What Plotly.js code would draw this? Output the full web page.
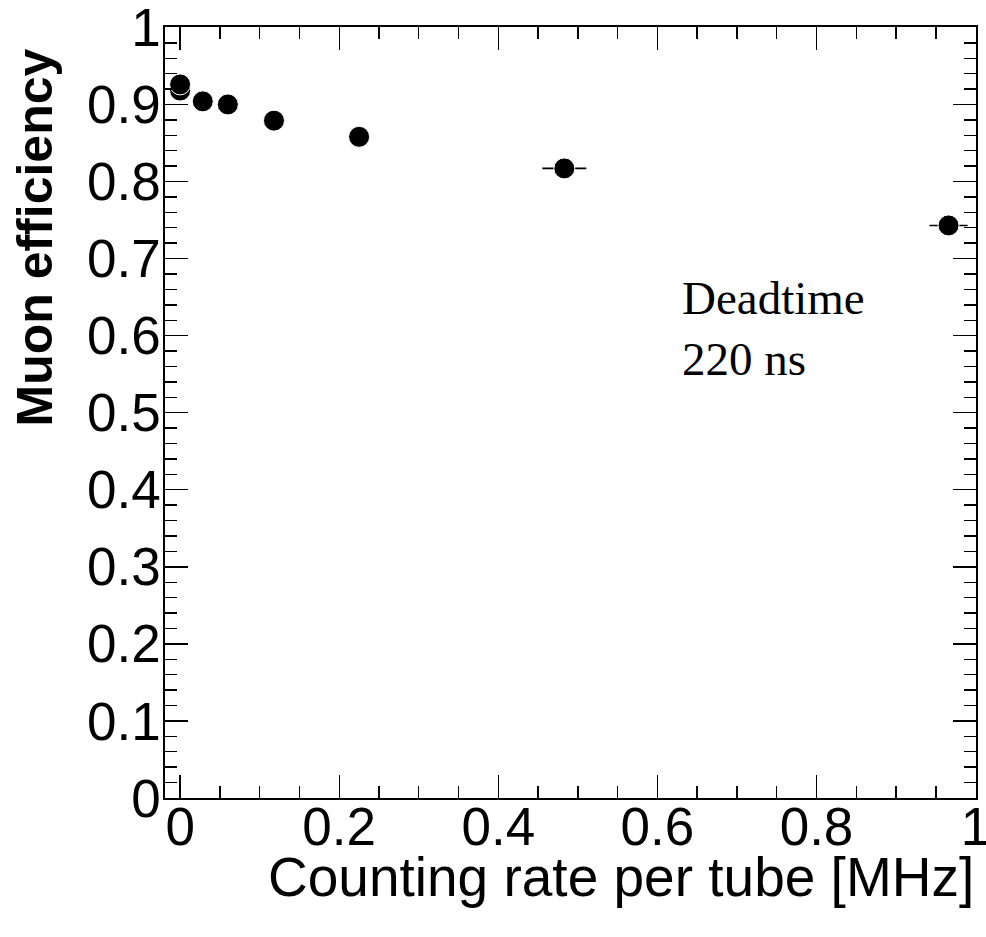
<!DOCTYPE html>
<html>
<head>
<meta charset="utf-8">
<script src="https://cdn.plot.ly/plotly-3.0.1.min.js"></script>
<style>html,body{margin:0;padding:0;background:#fff;}#chart{width:986px;height:937px;}</style>
</head>
<body>
<div id="chart"></div>
<script>
// Data
var rate = [0.0, 0.0, 0.0285, 0.060, 0.118, 0.225, 0.483, 0.966];
var efficiency = [0.918, 0.926, 0.904, 0.900, 0.879, 0.858, 0.817, 0.743];
var rateErr = [0, 0, 0, 0, 0, 0, 0.0276, 0.024];

var xTickVals = [0, 0.2, 0.4, 0.6, 0.8, 1];
var xTickText = ["0", "0.2", "0.4", "0.6", "0.8", "1"];
var yTickVals = [0, 0.1, 0.2, 0.3, 0.4, 0.5, 0.6, 0.7, 0.8, 0.9, 1];
var yTickText = ["0", "0.1", "0.2", "0.3", "0.4", "0.5", "0.6", "0.7", "0.8", "0.9", "1"];

var xTitle = "Counting rate per tube [MHz]";
var yTitle = "Muon efficiency";
var noteText = "Deadtime<br>220 ns";

var trace = {
  x: rate, y: efficiency, type: "scatter", mode: "markers",
  marker: {color: "#000", size: 21, line: {color: "#fff", width: 1}},
  error_x: {type: "data", array: rateErr, visible: true, color: "#000", thickness: 1.6, width: 0},
  hoverinfo: "skip", showlegend: false
};

var axisCommon = {
  showline: true, linecolor: "#000", linewidth: 1.6, mirror: "ticks",
  ticks: "inside", ticklen: 23, tickwidth: 1.4, tickcolor: "#000",
  showgrid: false, zeroline: false, ticklabeloverflow: "allow",
  tickfont: {family: "Liberation Sans, Arial, sans-serif", size: 53, color: "#000"}
};

var layout = {
  width: 986, height: 937,
  margin: {l: 165, r: 10, t: 27, b: 139},
  paper_bgcolor: "#fff", plot_bgcolor: "#fff",
  xaxis: Object.assign({}, axisCommon, {
    range: [-0.019, 1.0005], tickmode: "array", tickvals: xTickVals, ticktext: xTickText,
    minor: {dtick: 0.05, tick0: 0, ticks: "inside", ticklen: 12, tickwidth: 1.4, tickcolor: "#000", showgrid: false},
    ticklabelstandoff: -18
  }),
  yaxis: Object.assign({}, axisCommon, {
    range: [0, 1.0005], tickmode: "array", tickvals: yTickVals, ticktext: yTickText,
    minor: {dtick: 0.02, tick0: 0, ticks: "inside", ticklen: 12, tickwidth: 1.4, tickcolor: "#000", showgrid: false},
    ticklabelstandoff: -8
  }),
  annotations: [
    {text: xTitle, xref: "paper", yref: "paper", x: 1.0, y: -0.06, xanchor: "right", yanchor: "top",
     showarrow: false, font: {family: "Liberation Sans, Arial, sans-serif", size: 55, color: "#000"}},
    {text: yTitle, xref: "paper", yref: "paper", x: -0.16, y: 0.975, xanchor: "center", yanchor: "top",
     textangle: -90, showarrow: false,
     font: {family: "Liberation Sans, Arial, sans-serif", size: 50, color: "#000", weight: "bold"}},
    {text: noteText, xref: "x", yref: "y", x: 0.628, y: 0.685, xanchor: "left", yanchor: "top", align: "left",
     showarrow: false, font: {family: "Liberation Serif, Times New Roman, serif", size: 47, color: "#000"}}
  ]
};

Plotly.newPlot("chart", [trace], layout, {displayModeBar: false, staticPlot: true});
</script>
</body>
</html>
